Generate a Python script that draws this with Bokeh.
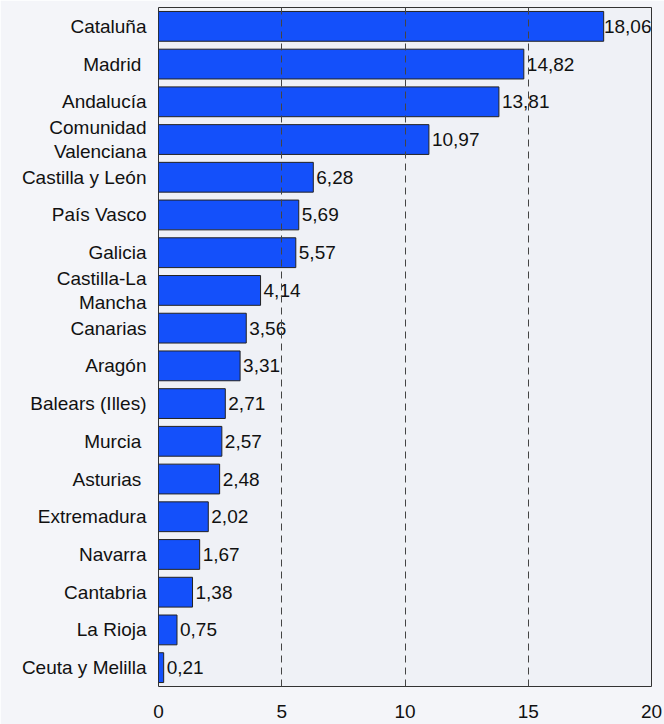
from bokeh.plotting import figure
from bokeh.models import ColumnDataSource, FactorRange, Range1d, FixedTicker
from bokeh.core.properties import value
from bokeh.embed import file_html
from bokeh.resources import INLINE

regions = ["Cataluña", "Madrid\u00a0", "Andalucía", "Comunidad\nValenciana", "Castilla y León",
           "País Vasco", "Galicia", "Castilla-La\nMancha", "Canarias", "Aragón",
           "Balears (Illes)", "Murcia\u00a0", "Asturias\u00a0", "Extremadura", "Navarra",
           "Cantabria", "La Rioja", "Ceuta y Melilla"]
shares = [18.06, 14.82, 13.81, 10.97, 6.28, 5.69, 5.57, 4.14, 3.56, 3.31,
          2.71, 2.57, 2.48, 2.02, 1.67, 1.38, 0.75, 0.21]
x_ticks = [0, 5, 10, 15, 20]
x_max = 20

FONT = "Liberation Sans"

labels = [f"{v:.2f}".replace(".", ",") for v in shares]
inside = [v <= 17 for v in shares]
src_in = ColumnDataSource(dict(
    region=[r for r, k in zip(regions, inside) if k],
    share=[v for v, k in zip(shares, inside) if k],
    label=[t for t, k in zip(labels, inside) if k]))
src_out = ColumnDataSource(dict(
    region=[r for r, k in zip(regions, inside) if not k],
    share=[x_max for v, k in zip(shares, inside) if not k],
    label=[t for t, k in zip(labels, inside) if not k]))
src = ColumnDataSource(dict(region=regions, share=shares))

p = figure(width=664, height=724, output_backend="svg", toolbar_location=None,
           y_range=FactorRange(factors=list(reversed(regions)), range_padding=0),
           x_range=Range1d(0, x_max),
           min_border_left=158, min_border_right=13, min_border_top=7, min_border_bottom=38)

p.background_fill_color = "#eff1f6"
p.border_fill_color = "#f4f5f9"
p.outline_line_color = "#333333"
p.outline_line_width = 1

p.hbar(y="region", right="share", left=0, height=0.79, source=src,
       fill_color="#1450fa", line_color="#222222", line_width=1)

p.text(x="share", y="region", text="label", source=src_in, x_offset=3,
       text_font=value(FONT), text_font_size="19px", text_color="#111111",
       text_baseline="middle", text_align="left")
p.text(x="share", y="region", text="label", source=src_out, x_offset=0,
       text_font=value(FONT), text_font_size="19px", text_color="#111111",
       text_baseline="middle", text_align="right")

p.xgrid.ticker = FixedTicker(ticks=x_ticks)
p.xgrid.grid_line_color = "#444444"
p.xgrid.grid_line_dash = "7 5"
p.xgrid.grid_line_width = 1
p.xgrid.level = "overlay"
p.ygrid.grid_line_color = None

p.xaxis.ticker = FixedTicker(ticks=x_ticks)
for ax in (p.xaxis[0], p.yaxis[0]):
    ax.axis_line_color = None
    ax.major_tick_line_color = None
    ax.minor_tick_line_color = None
    ax.major_tick_out = 0
    ax.major_tick_in = 0
    ax.major_label_text_font = FONT
    ax.major_label_text_font_size = "19px"
    ax.major_label_text_color = "#111111"
p.xaxis.major_label_standoff = 18
p.yaxis.major_label_standoff = 12
p.yaxis.major_label_text_line_height = 1.12

# fragments of the slide title visible at the left edge
try:
    from bokeh.models import HTMLLabel
    frag = [("s", 0, 35), ("n", 0, 148), ("s", 0, 618), ("l", 0, 687)]
    for t, cx, cy in frag:
        p.add_layout(HTMLLabel(x=cx - 158, y=686 - cy, x_units="screen", y_units="screen",
                               text=t, text_font=FONT, text_font_size="46px",
                               text_color="#1c3f95", text_baseline="alphabetic",
                               text_align="left"))
except Exception:
    pass

open("out.html", "w").write(file_html(p, INLINE))
